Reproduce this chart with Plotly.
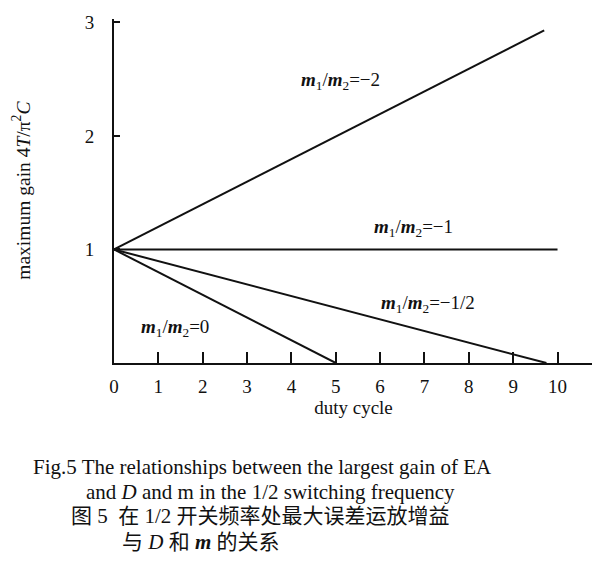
import plotly.graph_objects as go

# Data
ratio_labels = ["−2", "−1", "−1/2", "0"]
duty_start = [0, 0, 0, 0]
gain_start = [1, 1, 1, 1]
duty_end = [9.7, 10.0, 9.75, 5.0]
gain_end = [2.93, 1.0, 0.0, 0.0]
label_x = [5.1, 6.76, 7.08, 1.38]
label_y = [2.48, 1.19, 0.52, 0.31]
x_ticks = list(range(0, 11))
y_ticks = [1, 2, 3]

SERIF = "Liberation Serif, Times New Roman, serif"
CJK = "Liberation Serif, Noto Sans CJK SC, serif"

fig = go.Figure()
for i in range(len(ratio_labels)):
    fig.add_trace(go.Scatter(
        x=[duty_start[i], duty_end[i]], y=[gain_start[i], gain_end[i]],
        mode="lines", line=dict(color="#111", width=2), showlegend=False,
        hoverinfo="skip"))
    fig.add_annotation(
        x=label_x[i], y=label_y[i], xref="x", yref="y", showarrow=False,
        text="<b><i>m</i></b><sub>1</sub>/<b><i>m</i></b><sub>2</sub>=" + ratio_labels[i],
        font=dict(family=SERIF, size=19, color="#111"))

fig.update_xaxes(
    range=[0, 10.8], tickvals=x_ticks, ticktext=[str(v) for v in x_ticks],
    ticks="inside", ticklen=11, tickwidth=2, tickcolor="#111",
    showline=True, linecolor="#111", linewidth=2, showgrid=False, zeroline=False,
    tickfont=dict(family=SERIF, size=19, color="#111"), ticklabelstandoff=5,
    title=dict(text="duty cycle", font=dict(family=SERIF, size=19, color="#111"), standoff=3))
fig.update_yaxes(
    range=[0, 3.03], tickvals=y_ticks, ticktext=[str(v) for v in y_ticks],
    ticks="inside", ticklen=6, tickwidth=2, tickcolor="#111",
    showline=True, linecolor="#111", linewidth=2, showgrid=False, zeroline=False,
    ticklabeloverflow="allow",
    tickfont=dict(family=SERIF, size=19, color="#111"), ticklabelstandoff=14)

fig.add_annotation(
    xref="paper", yref="paper", x=-0.194, y=0.501, xanchor="center", yanchor="middle",
    textangle=-90, showarrow=False,
    text="maximum gain 4<i>T</i>/π<sup>2</sup><i>C</i>",
    font=dict(family=SERIF, size=19.5, color="#111"))

captions = [
    ("Fig.5 The relationships between the largest gain of EA", 0.309, -0.302, "center"),
    ("and <i>D</i> and m in the 1/2 switching frequency", 0.326, -0.376, "center"),
    ("图 5  在 1/2 开关频率处最大误差运放增益", 0.305, -0.444, "center"),
    ("与 <i>D</i> 和 <b><i>m</i></b> 的关系", 0.0125, -0.519, "left"),
]
for txt, cx, cy, anc in captions:
    fig.add_annotation(xref="paper", yref="paper", x=cx, y=cy, xanchor=anc,
                       yanchor="middle", showarrow=False, text=txt,
                       font=dict(family=CJK, size=21, color="#111"))

fig.update_layout(
    width=600, height=580, plot_bgcolor="white", paper_bgcolor="white",
    margin=dict(l=106, r=15, t=4, b=225))

fig.write_html("out.html")
